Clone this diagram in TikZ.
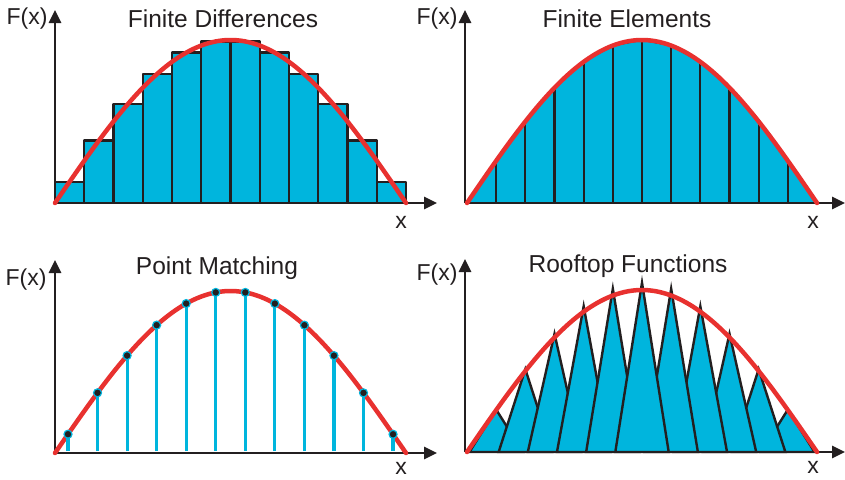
\documentclass[tikz,border=0pt]{standalone}
\usepackage{fontspec}
\setmainfont{Liberation Sans}
\usetikzlibrary{arrows.meta}
\definecolor{fillc}{HTML}{00B5DD}
\definecolor{curvc}{HTML}{E8312F}
\definecolor{inkc}{HTML}{231F20}
\tikzset{
  >={Triangle[length=13pt,width=12pt]},
  axis/.style={->,line width=2.8pt,draw=inkc},
  fcurve/.style={draw=curvc,line width=4.5pt,line cap=round},
  bar/.style={draw=inkc,fill=fillc,line width=2.3pt,line join=round},
  stem/.style={draw=fillc,line width=3.2pt},
  dot/.style={circle,fill=inkc,draw=fillc,line width=1.2pt,inner sep=0pt,minimum size=8pt},
  ttl/.style={font=\fontsize{24.5}{26}\selectfont,text=inkc,inner sep=0pt},
  lbl/.style={font=\fontsize{23}{25}\selectfont,text=inkc,inner sep=0pt},
}
% axes: name, origin x, origin y, x-axis tip
\newcommand{\plotaxes}[4]{%
  \coordinate (#1-o) at (#2,#3);
  \coordinate (#1-xt) at (#4,#3);
  \coordinate (#1-yt) at (#2,#3-193);
  \draw[axis] (#1-o) -- (#1-xt);
  \draw[axis] (#1-o) -- (#1-yt);}
% red curve: start x, end x, base y, height
\newcommand{\fcurve}[4]{%
  \draw[fcurve] plot[domain=#1:#2,samples=90,smooth] (\x,{#3-#4*sin((\x-#1)/(#2-#1)*180)});}

\begin{document}
\begin{tikzpicture}[x=1pt,y=-1pt]
  \useasboundingbox (0,0) rectangle (845,479);

  % Finite Differences
  \foreach \i in {1,...,12} {
    \pgfmathsetmacro\xa{55+29.25*(\i-1)}
    \pgfmathsetmacro\xb{55+29.25*\i}
    \pgfmathsetmacro\yb{203-163*sin(15*(\i-0.5))}
    \draw[bar] (\xa,203) rectangle (\xb,\yb);}
  \plotaxes{fd}{55}{203}{437}
  \fcurve{55}{406}{203}{163}
  \node[ttl] (fd-title) at (223,19) {Finite Differences};
  \node[lbl] (fd-fx) at (27,19) {F(x)};
  \node[lbl] (fd-x) at (401,222) {x};

  % Finite Elements
  \fill[fillc] (467,203) \foreach \k in {1,...,12} {-- ({467+350/12*\k},{203-163*sin(15*\k)})} -- cycle;
  \foreach \k in {1,...,11}
    \draw[inkc,line width=2.3pt] ({467+350/12*\k},203) -- ({467+350/12*\k},{203-163*sin(15*\k)});
  \draw[inkc,line width=1.5pt] (467,203) \foreach \k in {1,...,12} {-- ({467+350/12*\k},{203-163*sin(15*\k)})};
  \plotaxes{fe}{465}{203}{845}
  \fcurve{467}{817}{203}{163}
  \node[ttl] (fe-title) at (627,19) {Finite Elements};
  \node[lbl] (fe-fx) at (437,19) {F(x)};
  \node[lbl] (fe-x) at (813,222) {x};

  % Point Matching
  \plotaxes{pm}{55}{453}{437}
  \fcurve{55}{406}{453}{162}
  \foreach \i in {0,...,11} {
    \pgfmathsetmacro\xp{68+29.55*\i}
    \pgfmathsetmacro\yp{453-162*sin((\xp-55)/351*180)}
    \draw[stem] (\xp,451) -- (\xp,\yp);
    \node[dot] (pm-p\i) at (\xp,\yp) {};}
  \node[ttl] (pm-title) at (217,268) {Point Matching};
  \node[lbl] (pm-fx) at (26,280) {F(x)};
  \node[lbl] (pm-x) at (401,468) {x};

  % Rooftop Functions
  \foreach \k in {1,2,3,4,5,11,10,9,8,7,6} {
    \pgfmathsetmacro\xr{467+350/12*\k}
    \pgfmathsetmacro\yr{452-162*sin(15*\k)*(1+0.045*sin(15*\k))}
    \draw[bar,line width=2.4pt,line join=miter] (\xr-26.7,452) -- (\xr,\yr) -- (\xr+26.7,452) -- cycle;}
  \plotaxes{rf}{465}{452}{845}
  \fcurve{467}{817}{452}{162}
  \node[ttl] (rf-title) at (628,266) {Rooftop Functions};
  \node[lbl] (rf-fx) at (437,275) {F(x)};
  \node[lbl] (rf-x) at (813,467) {x};
\end{tikzpicture}
\end{document}
